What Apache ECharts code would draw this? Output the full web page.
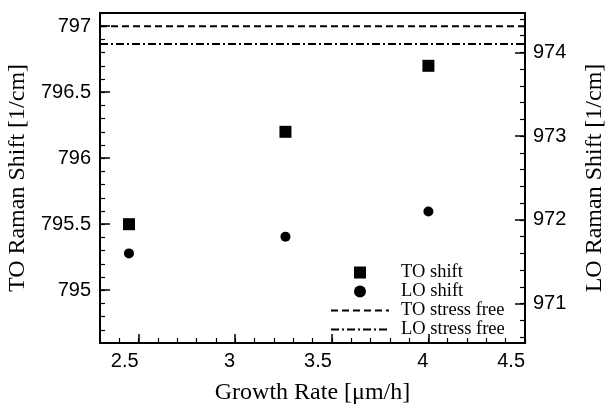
<!DOCTYPE html>
<html>
<head>
<meta charset="utf-8">
<script src="https://cdn.jsdelivr.net/npm/echarts@6/dist/echarts.min.js"></script>
<style>html,body{margin:0;padding:0;background:#fff}#c{width:606px;height:406px}</style>
</head>
<body>
<div id="c"></div>
<script>
// ---- data ----
const growthRate = [2.45, 3.26, 4.0];
const toShift = [795.5, 796.2, 796.7];
const loShift = [971.6, 971.8, 972.1];
const toStressFree = 797.0;
const loStressFree = 974.1;
const xTickLabels = [2.5, 3, 3.5, 4, 4.5];
const toTickLabels = [795, 795.5, 796, 796.5, 797];
const loTickLabels = [971, 972, 973, 974];
const seriesNames = ['TO shift', 'LO shift', 'TO stress free', 'LO stress free'];

// axis ranges
const xMin = 2.3, xMax = 4.5;
const toMin = 794.6, toMax = 797.1;
const loMin = 970.53, loMax = 974.47;

function steps(a, b, s) {
  const out = [];
  for (let v = a; v <= b + 1e-9; v += s) out.push(Math.round(v * 100) / 100);
  return out;
}
const xMinor = steps(2.4, 4.5, 0.1);
const toMinor = steps(794.7, 797.1, 0.1);
const loMinor = steps(970.6, 974.4, 0.2);

const sans = 'Liberation Sans';
const serif = 'Liberation Serif';
const black = '#000';

function majorAxis(extra) {
  return Object.assign({
    type: 'value',
    splitLine: { show: false },
    axisLine: { show: true, lineStyle: { color: black, width: 2 } },
    axisLabel: { color: black, fontFamily: sans, fontSize: 20 },
    nameTextStyle: { color: black, fontFamily: serif, fontSize: 24 },
    nameLocation: 'middle'
  }, extra);
}
function minorAxis(extra) {
  return Object.assign({
    type: 'value',
    splitLine: { show: false },
    axisLine: { show: false },
    axisLabel: { show: false }
  }, extra);
}

const chart = echarts.init(document.getElementById('c'), null, { renderer: 'canvas' });
chart.setOption({
  animation: false,
  backgroundColor: '#fff',
  grid: { left: 100, right: 81, top: 13, bottom: 63, show: true, borderColor: black, borderWidth: 2, containLabel: false, outerBoundsMode: 'none' },
  legend: {
    orient: 'vertical',
    left: 330,
    top: 263,
    padding: 0,
    itemWidth: 58,
    itemHeight: 12,
    itemGap: 0,
    symbolKeepAspect: true,
    lineStyle: { width: 2 },
    textStyle: { color: black, fontFamily: serif, fontSize: 18.5, lineHeight: 18, padding: [0, 0, 0, 7] },
    data: [
      { name: seriesNames[0], icon: 'path://M0,0H10V10H0Z' },
      { name: seriesNames[1], icon: 'circle' },
      { name: seriesNames[2], itemStyle: { opacity: 0 }, lineStyle: { width: 2, type: [7, 4] } },
      { name: seriesNames[3], itemStyle: { opacity: 0 }, lineStyle: { width: 2, type: [8, 3, 2, 3] } }
    ]
  },
  xAxis: [
    majorAxis({
      min: xMin, max: xMax, position: 'bottom',
      axisTick: { show: true, inside: true, length: 9, lineStyle: { color: black, width: 1.5 }, customValues: xTickLabels },
      axisLabel: { color: black, fontFamily: sans, fontSize: 20, margin: 8, align: 'right', customValues: xTickLabels },
      name: 'Growth Rate [μm/h]', nameGap: 38
    }),
    minorAxis({
      min: xMin, max: xMax, position: 'bottom',
      axisTick: { show: true, inside: true, length: 5, lineStyle: { color: black, width: 1.2 }, customValues: xMinor }
    })
  ],
  yAxis: [
    majorAxis({
      min: toMin, max: toMax, position: 'left',
      axisTick: { show: true, inside: true, length: 10, lineStyle: { color: black, width: 1.5 }, customValues: toTickLabels },
      axisLabel: { color: black, fontFamily: sans, fontSize: 20, margin: 9, customValues: toTickLabels },
      name: 'TO Raman Shift [1/cm]', nameGap: 60, nameRotate: 90
    }),
    minorAxis({
      min: toMin, max: toMax, position: 'left',
      axisTick: { show: true, inside: true, length: 5, lineStyle: { color: black, width: 1.2 }, customValues: toMinor }
    }),
    majorAxis({
      min: loMin, max: loMax, position: 'right',
      axisTick: { show: true, inside: true, length: 10, lineStyle: { color: black, width: 1.5 }, customValues: loTickLabels },
      axisLabel: { color: black, fontFamily: sans, fontSize: 20, margin: 8, customValues: loTickLabels },
      name: 'LO Raman Shift [1/cm]', nameGap: 58, nameRotate: 90
    }),
    minorAxis({
      min: loMin, max: loMax, position: 'right',
      axisTick: { show: true, inside: true, length: 5, lineStyle: { color: black, width: 1.2 }, customValues: loMinor }
    })
  ],
  series: [
    {
      name: seriesNames[0], type: 'scatter', xAxisIndex: 0, yAxisIndex: 0,
      symbol: 'rect', symbolSize: 12, itemStyle: { color: black, opacity: 1 },
      data: growthRate.map((x, i) => [x, toShift[i]])
    },
    {
      name: seriesNames[1], type: 'scatter', xAxisIndex: 0, yAxisIndex: 2,
      symbol: 'circle', symbolSize: 10, itemStyle: { color: black, opacity: 1 },
      data: growthRate.map((x, i) => [x, loShift[i]])
    },
    {
      name: seriesNames[2], type: 'line', xAxisIndex: 0, yAxisIndex: 0,
      symbol: 'none', itemStyle: { color: black },
      lineStyle: { color: black, width: 2, type: [7, 4] },
      data: [[xMin, toStressFree], [xMax, toStressFree]]
    },
    {
      name: seriesNames[3], type: 'line', xAxisIndex: 0, yAxisIndex: 2,
      symbol: 'none', itemStyle: { color: black },
      lineStyle: { color: black, width: 2, type: [8, 3, 2, 3] },
      data: [[xMin, loStressFree], [xMax, loStressFree]]
    }
  ]
});
</script>
</body>
</html>
